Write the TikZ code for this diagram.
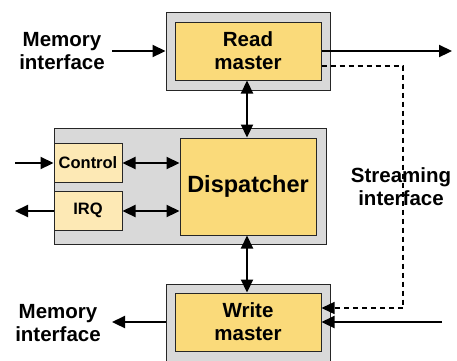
\documentclass[tikz,border=0pt]{standalone}
\usepackage{fontspec}
\setmainfont{Liberation Sans}
\usetikzlibrary{arrows.meta}
\definecolor{boxyel}{HTML}{FADA7A}
\definecolor{lightyel}{HTML}{FDE9B5}
\definecolor{boxgray}{HTML}{D9D9D9}
\begin{document}
\begin{tikzpicture}[x=1pt,y=-1pt,
  outerbox/.style={draw=black!85,fill=boxgray,line width=1pt,inner sep=0pt},
  innerbox/.style={draw=black!85,fill=boxyel,line width=1pt,inner sep=0pt,align=center,font=\fontsize{20.5}{23}\selectfont\bfseries},
  smallbox/.style={draw=black!85,fill=lightyel,line width=1pt,inner sep=0pt,font=\fontsize{16.5}{19}\selectfont\bfseries},
  lbl/.style={align=center,font=\fontsize{20.5}{23}\selectfont\bfseries,inner sep=0pt},
  tip/.tip={Triangle[length=13pt,width=12pt]},
  conn/.style={line width=2.2pt,-tip},
  bconn/.style={line width=2.2pt,tip-tip},
  dconn/.style={line width=1.4pt,dash pattern=on 5pt off 4pt,-tip}
]
\useasboundingbox (0,0) rectangle (457,360);
% Read master
\node[outerbox,minimum width=164pt,minimum height=78pt] (rmo) at (248,51) {};
\node[innerbox,minimum width=146pt,minimum height=58pt] (rm) at (248,51) {Read\\master};
% Dispatcher block
\node[outerbox,minimum width=272pt,minimum height=116pt] (dpo) at (190,186) {};
\node[innerbox,minimum width=136pt,minimum height=97pt,font=\fontsize{23.5}{27}\selectfont\bfseries] (dp) at (248,186.5) {Dispatcher};
\node[smallbox,minimum width=68pt,minimum height=39pt] (ctrl) at (88,162.5) {Control};
\node[smallbox,minimum width=68pt,minimum height=39pt] (irq) at (88,210.5) {IRQ};
% Write master
\node[outerbox,minimum width=164pt,minimum height=77pt] (wmo) at (248,322.5) {};
\node[innerbox,minimum width=146pt,minimum height=58pt] (wm) at (248,322) {Write\\master};
% Labels
\node[lbl] (memtop) at (62,51) {Memory\\interface};
\node[lbl] (membot) at (58,323.5) {Memory\\interface};
\node[lbl] (stream) at (401,187) {Streaming\\interface};
% Coordinates
\coordinate (memin) at (112,51);
\coordinate (rmout) at (452,51);
\coordinate (memout) at (112,322);
\coordinate (strin) at (442,322);
\coordinate (ctrlin) at (15,163);
\coordinate (irqout) at (15,211);
\coordinate (dA) at (403,66);
\coordinate (dB) at (403,308);
% Connectors
\draw[conn] (memin) -- (rmo.west |- memin);
\draw[conn] (rm.east |- rmout) -- (rmout);
\draw[dconn] (rm.east |- dA) -- (dA) -- (dB) -- (wm.east |- dB);
\draw[conn] (strin) -- (wm.east |- strin);
\draw[conn] (wmo.west |- memout) -- (memout);
\draw[bconn] (rm.south -| 247,0) -- (dp.north -| 247,0);
\draw[bconn] (dp.south -| 247,0) -- (wm.north -| 247,0);
\draw[conn] (ctrlin) -- (ctrl.west |- ctrlin);
\draw[conn] (irq.west |- irqout) -- (irqout);
\draw[bconn] (ctrl.east |- ctrlin) -- (dp.west |- ctrlin);
\draw[bconn] (irq.east |- irqout) -- (dp.west |- irqout);
\end{tikzpicture}
\end{document}
